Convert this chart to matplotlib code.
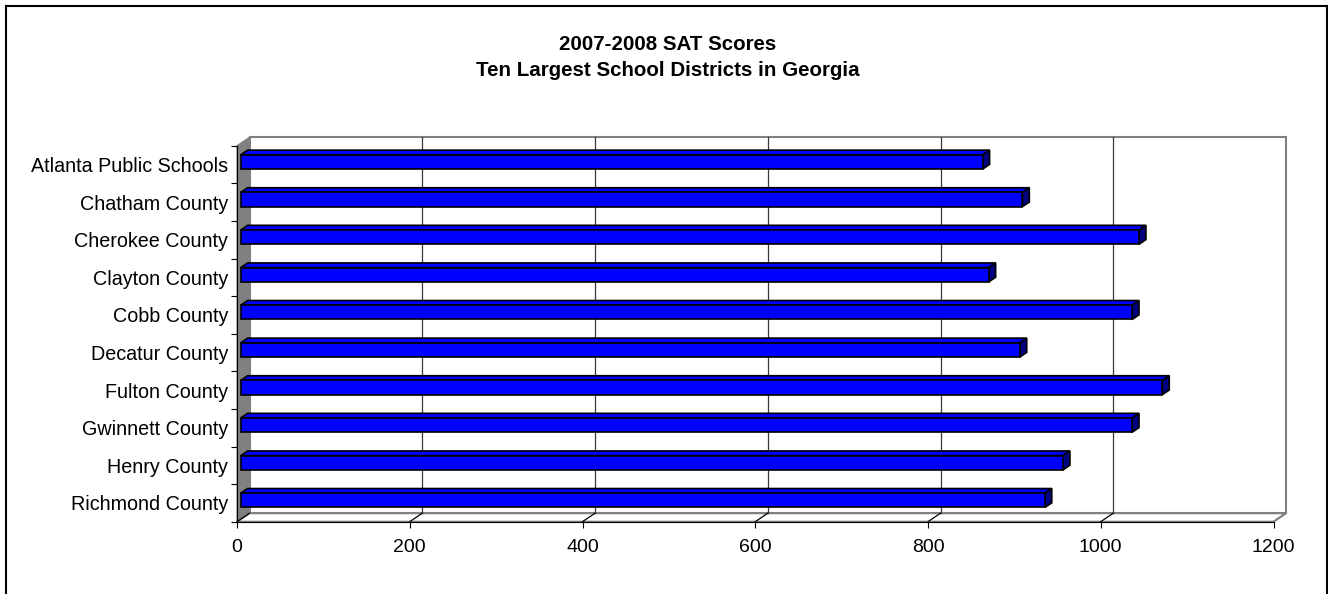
import matplotlib
matplotlib.use("Agg")
import numpy as np
import matplotlib.pyplot as plt
from matplotlib.patches import Polygon
from matplotlib.lines import Line2D

districts = ["Atlanta Public Schools", "Chatham County", "Cherokee County",
             "Clayton County", "Cobb County", "Decatur County", "Fulton County",
             "Gwinnett County", "Henry County", "Richmond County"]
scores = [859, 905, 1040, 866, 1032, 902, 1067, 1032, 952, 931]
x_ticks = [0, 200, 400, 600, 800, 1000, 1200]
title_lines = ["2007-2008 SAT Scores", "Ten Largest School Districts in Georgia"]

plt.rcParams["font.family"] = ["Liberation Sans", "DejaVu Sans"]

W, H = 1328, 594
fig = plt.figure(figsize=(W / 100, H / 100), dpi=100)
ax_w, ax_h = 1036.5, 376.0
ax = fig.add_axes([237 / W, (H - 521.7) / H, ax_w / W, ax_h / H])
n = len(districts)
xmax = x_ticks[-1]
ax.set_xlim(0, xmax)
ax.set_ylim(n - 0.5, -0.5)
ax.patch.set_visible(False)

px_x = ax_w / xmax
px_y = ax_h / n
DEPTH_X, DEPTH_Y = 12.5, 8.5


def P(x, y, d):
    return (x + d * DEPTH_X / px_x, y - d * DEPTH_Y / px_y)


top, bot = -0.5, n - 0.5
wall_gray = "#808080"
# back wall
ax.add_patch(Polygon([P(0, top, 1), P(xmax, top, 1), P(xmax, bot, 1), P(0, bot, 1)],
                     closed=True, fc="white", ec=wall_gray, lw=1.5, clip_on=False, zorder=0.5))
# left side wall
ax.add_patch(Polygon([P(0, top, 0), P(0, top, 1), P(0, bot, 1), P(0, bot, 0)],
                     closed=True, fc=wall_gray, ec=wall_gray, lw=0.8, clip_on=False, zorder=0.6))
# floor
ax.add_patch(Polygon([P(0, bot, 0), P(xmax, bot, 0), P(xmax, bot, 1), P(0, bot, 1)],
                     closed=True, fc="white", ec=wall_gray, lw=1.5, clip_on=False, zorder=0.6))
# gridlines on back wall and floor
for t in x_ticks:
    if 0 < t < xmax:
        a, b = P(t, top, 1), P(t, bot, 1)
        ax.add_line(Line2D([a[0], b[0]], [a[1], b[1]], color="#3a3a3a", lw=0.9,
                           clip_on=False, zorder=0.8))
    a, b = P(t, bot, 0), P(t, bot, 1)
    ax.add_line(Line2D([a[0], b[0]], [a[1], b[1]],
                       color=("black" if t < xmax else wall_gray), lw=0.9,
                       clip_on=False, zorder=0.8))

# 3D bars
h = 0.38
d0, d1 = 0.3, 0.85
for i, v in enumerate(scores):
    y0, y1 = i - h / 2, i + h / 2
    front = [P(0, y0, d0), P(v, y0, d0), P(v, y1, d0), P(0, y1, d0)]
    topf = [P(0, y0, d0), P(v, y0, d0), P(v, y0, d1), P(0, y0, d1)]
    side = [P(v, y0, d0), P(v, y1, d0), P(v, y1, d1), P(v, y0, d1)]
    ax.add_patch(Polygon(topf, closed=True, fc="#0000FF", ec="black", lw=1.2,
                         joinstyle="miter", zorder=3))
    ax.add_patch(Polygon(side, closed=True, fc="#000080", ec="black", lw=1.2,
                         joinstyle="miter", zorder=3))
    ax.add_patch(Polygon(front, closed=True, fc="#0000FF", ec="black", lw=1.2,
                         joinstyle="miter", zorder=3.1))

# axes / ticks
for s in ("top", "right"):
    ax.spines[s].set_visible(False)
for s in ("left", "bottom"):
    ax.spines[s].set_color("black")
    ax.spines[s].set_linewidth(0.8)
    ax.spines[s].set_zorder(4)

ax.set_xticks(x_ticks)
ax.set_xticklabels([str(t) for t in x_ticks])
ax.tick_params(axis="x", length=4.5, width=0.8, direction="out", labelsize=14,
               pad=8, colors="black")
ax.set_yticks(range(n))
ax.set_yticklabels(districts)
ax.set_yticks(np.arange(-0.5, n, 1.0), minor=True)
ax.tick_params(axis="y", which="major", length=0, pad=6.5, labelsize=14.2)
ax.tick_params(axis="y", which="minor", length=4.5, width=0.8, direction="out")

# titles
fig.text(668 / W, 1 - 44 / H, title_lines[0], ha="center", va="center",
         fontsize=14.8, fontweight="bold")
fig.text(668 / W, 1 - 70 / H, title_lines[1], ha="center", va="center",
         fontsize=14.8, fontweight="bold")

# outer border (open at bottom)
lw_b = 1.5
fig.add_artist(Line2D([5.5 / W, 5.5 / W], [0, 1 - 6 / H], transform=fig.transFigure,
                      color="black", lw=lw_b))
fig.add_artist(Line2D([5.5 / W, 1326.5 / W], [1 - 6 / H, 1 - 6 / H],
                      transform=fig.transFigure, color="black", lw=lw_b))
fig.add_artist(Line2D([1326.5 / W, 1326.5 / W], [0, 1 - 6 / H], transform=fig.transFigure,
                      color="black", lw=lw_b))

fig.savefig("out.png", dpi=100)
